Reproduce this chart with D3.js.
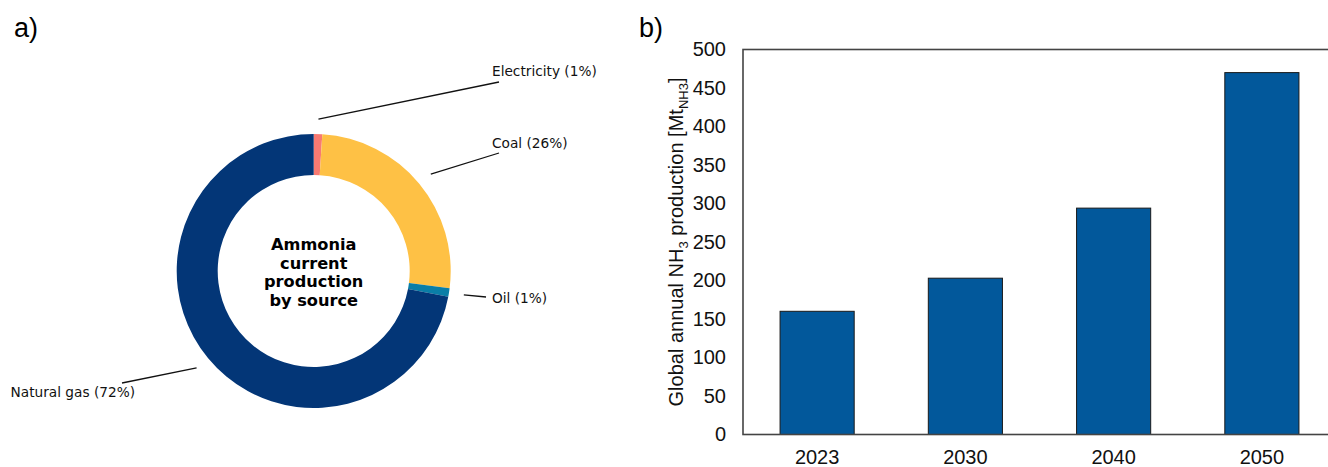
<!DOCTYPE html>
<html><head><meta charset="utf-8">
<script src="https://cdn.jsdelivr.net/npm/d3@7/dist/d3.min.js"></script>
<style>body{margin:0;background:#fff}svg{display:block}</style>
</head><body>
<svg id="c" width="1328" height="467"></svg>
<script>
// ---- data ----
const sources = ["Electricity", "Coal", "Oil", "Natural gas"];
const shares = [1, 26, 1, 72];
const sourceColors = ["#F87A72", "#FEC145", "#0A7EA7", "#033677"];
const centerTitle = ["Ammonia", "current", "production", "by source"];

const years = ["2023", "2030", "2040", "2050"];
const production = [160, 203, 294, 470];
const yTicks = [0, 50, 100, 150, 200, 250, 300, 350, 400, 450, 500];

// ---- layout ----
const svg = d3.select("#c");
const font = "'Liberation Sans', Arial, sans-serif";
const dfont = "'DejaVu Sans', sans-serif";

svg.append("text").attr("x", 14).attr("y", 37).attr("font-family", font).attr("font-size", 27).text("a)");
svg.append("text").attr("x", 639).attr("y", 37).attr("font-family", font).attr("font-size", 27).text("b)");

// donut
const cx = 313.7, cy = 271, rOut = 137, rIn = 96;
const pie = d3.pie().sort(null).value(d => d)(shares);
const arc = d3.arc().innerRadius(rIn).outerRadius(rOut);
const g = svg.append("g").attr("transform", `translate(${cx},${cy})`);
g.selectAll("path").data(pie).join("path")
  .attr("d", arc).attr("fill", (d, i) => sourceColors[i]);

const labelLayout = [
  {end: [499, 82], tx: 492, ty: 76, anchor: "start"},
  {end: [499, 153], tx: 492, ty: 148, anchor: "start"},
  {end: [486, 297], tx: 492, ty: 303, anchor: "start"},
  {end: [122, 383], tx: 135, ty: 397, anchor: "end"}
];
const lineArc = d3.arc().innerRadius(152).outerRadius(152);
pie.forEach((d, i) => {
  const [sx, sy] = lineArc.centroid(d);
  const L = labelLayout[i];
  svg.append("line").attr("x1", cx + sx).attr("y1", cy + sy)
    .attr("x2", L.end[0]).attr("y2", L.end[1])
    .attr("stroke", "#111").attr("stroke-width", 1.3);
  svg.append("text").attr("x", L.tx).attr("y", L.ty)
    .attr("text-anchor", L.anchor).attr("font-family", dfont).attr("font-size", 13.7)
    .attr("fill", "#111")
    .text(`${sources[i]} (${shares[i]}%)`);
});

g.selectAll("text.ct").data(centerTitle).join("text")
  .attr("class", "ct").attr("x", 0).attr("y", (d, i) => -21 + i * 18.7)
  .attr("text-anchor", "middle").attr("font-family", dfont)
  .attr("font-weight", "bold").attr("font-size", 16.2).text(d => d);

// bar chart
const x0 = 743, x1 = 1336, yTop = 49.5, yBot = 434.5;
const x = d3.scaleBand().domain(years).range([x0, x1]).paddingInner(0.5).paddingOuter(0.25);
const y = d3.scaleLinear().domain([0, 500]).range([yBot, yTop]);

svg.append("g").selectAll("rect").data(production).join("rect")
  .attr("x", (d, i) => x(years[i])).attr("width", x.bandwidth())
  .attr("y", d => y(d)).attr("height", d => y(0) - y(d))
  .attr("fill", "#02589B").attr("stroke", "#1a1a1a").attr("stroke-width", 1);

svg.append("rect").attr("x", x0).attr("y", yTop).attr("width", x1 - x0).attr("height", yBot - yTop)
  .attr("fill", "none").attr("stroke", "#444").attr("stroke-width", 1.6);

const ya = svg.append("g").attr("transform", `translate(${x0},0)`)
  .call(d3.axisLeft(y).tickValues(yTicks).tickSize(0).tickPadding(17));
ya.select(".domain").remove();
ya.selectAll("text").attr("font-family", font).attr("font-size", 20).attr("fill", "#111");

const xa = svg.append("g").attr("transform", `translate(0,${yBot})`)
  .call(d3.axisBottom(x).tickSize(0).tickPadding(0));
xa.select(".domain").remove();
xa.selectAll("text").attr("font-family", font).attr("font-size", 20).attr("fill", "#111")
  .attr("dy", null).attr("y", 29);

const yl = svg.append("text").attr("transform", "translate(683,242) rotate(-90)")
  .attr("text-anchor", "middle").attr("font-family", font).attr("font-size", 20).attr("fill", "#111");
yl.append("tspan").text("Global annual NH");
yl.append("tspan").attr("font-size", 13).attr("dy", 5).text("3");
yl.append("tspan").attr("dy", -5).text(" production [Mt");
yl.append("tspan").attr("font-size", 13).attr("dy", 5).text("NH3");
yl.append("tspan").attr("dy", -5).text("]");
</script>
</body></html>
